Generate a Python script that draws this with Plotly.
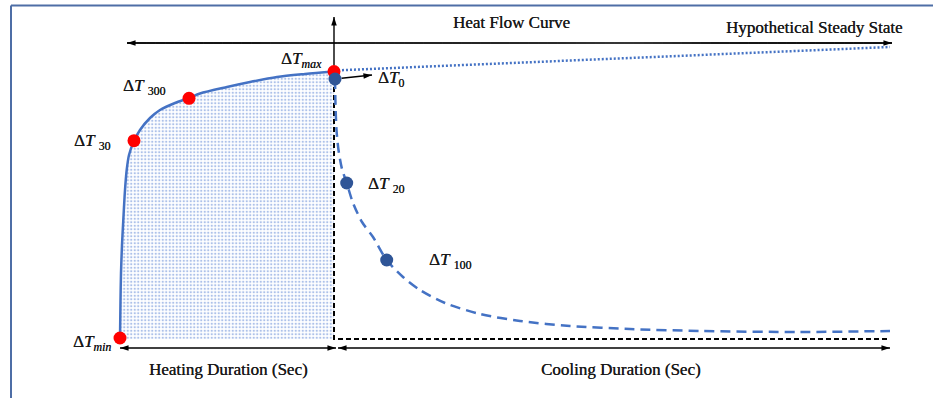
import plotly.graph_objects as go

# ---------------------------------------------------------------------------
# Schematic heat-flow curve: time (arbitrary units) vs temperature rise dT
# ---------------------------------------------------------------------------
heat_t = [0, 0.5, 1, 2, 3.3, 5, 6.7, 9, 14, 20, 30, 40, 55, 69, 80, 107, 130, 157, 185, 214]
heat_dT = [1, 39, 66, 94, 119, 149, 169, 184, 198, 209, 221, 229, 236, 241, 245.5, 252, 257, 262, 265, 267.5]

cool_t = [215, 215.5, 216.5, 218.5, 222, 226.7, 233, 242, 253, 266.7, 283, 300, 325, 360, 400, 450, 510, 580, 680, 770]
cool_dT = [260, 235, 209, 189, 170, 156, 136, 117, 102, 79, 62, 49, 36, 25, 18, 13, 10, 8, 7, 8]

steady_t = [214, 770]
steady_dT = [268.5, 292]

# marked readings
heat_pt_t = [0, 14, 69, 214]
heat_pt_dT = [1, 198.3, 240.7, 267.5]
heat_pt_labels = ["Δ<i>T</i><sub><i>min</i></sub>", "Δ<i>T</i> <sub>30</sub>",
                  "Δ<i>T</i> <sub>300</sub>", "Δ<i>T</i><sub><i>max</i></sub>"]

cool_pt_t = [215, 226.7, 266.7]
cool_pt_dT = [260, 156, 79]
cool_pt_labels = ["Δ<i>T</i><sub>0</sub>", "Δ<i>T</i> <sub>20</sub>", "Δ<i>T</i> <sub>100</sub>"]

# phase boundaries
heat_end = 214
cool_end = 770
baseline = 0

# guide arrows / captions
axis_top = 322
flow_arrow_t = [7, 772]
flow_arrow_dT = 296
duration_dT = -9
captions = ["Heat Flow Curve", "Hypothetical Steady State", "Heating Duration (Sec)", "Cooling Duration (Sec)"]
caption_t = [391, 694, 108, 501]
caption_dT = [317, 312, -30, -30]

BLUE = "#4472c4"
DARK_BLUE = "#2f5597"
SERIF = "Liberation Serif"
INK = "#1a1a1a"

fig = go.Figure()

# shaded heating area
fig.add_trace(go.Scatter(
    x=heat_t, y=heat_dT, mode="lines", fill="tozeroy",
    line=dict(color=BLUE, width=2.5, shape="spline", smoothing=0.8),
    fillpattern=dict(shape=".", fgcolor="#5b84d3", bgcolor="white", size=3.5, solidity=0.35),
    hoverinfo="skip"))

# black dashed boundaries (end of heating, baseline of cooling)
fig.add_trace(go.Scatter(
    x=[heat_end, heat_end, cool_end], y=[cool_pt_dT[0], baseline, baseline],
    mode="lines", line=dict(color="black", width=2, dash="5px,3px"), hoverinfo="skip"))

# hypothetical steady state (dotted)
fig.add_trace(go.Scatter(
    x=steady_t, y=steady_dT, mode="lines",
    line=dict(color=BLUE, width=2.5, dash="2px,2px"), hoverinfo="skip"))

# cooling curve (dashed)
fig.add_trace(go.Scatter(
    x=cool_t, y=cool_dT, mode="lines",
    line=dict(color=BLUE, width=2.5, dash="10px,6px", shape="spline", smoothing=0.8),
    hoverinfo="skip"))

# heat-flow double arrow with a dark-light-dark stroke
grey_stops = [(7, 0), (135, 15), (155, 85), (360, 100), (440, 135), (490, 200),
              (520, 192), (550, 138), (580, 68), (620, 20), (772, 0)]


def grey_at(t):
    for (t0, g0), (t1, g1) in zip(grey_stops[:-1], grey_stops[1:]):
        if t0 <= t <= t1:
            return int(round(g0 + (g1 - g0) * (t - t0) / (t1 - t0)))
    return 0


n_seg = 80
span = flow_arrow_t[1] - flow_arrow_t[0]
for i in range(n_seg):
    a = flow_arrow_t[0] + span * i / n_seg
    b = flow_arrow_t[0] + span * (i + 1) / n_seg
    g = grey_at((a + b) / 2)
    fig.add_trace(go.Scatter(
        x=[a, b], y=[flow_arrow_dT, flow_arrow_dT], mode="lines",
        line=dict(color=f"rgb({g},{g},{g})", width=1.4), hoverinfo="skip"))


def arrow(xs, ys, heads):
    """Black line through xs/ys with arrow-tip markers; heads = angle per point or None."""
    fig.add_trace(go.Scatter(
        x=xs, y=ys, mode="lines", line=dict(color="black", width=1.4), hoverinfo="skip"))
    pts = [(x, y, a) for x, y, a in zip(xs, ys, heads) if a is not None]
    fig.add_trace(go.Scatter(
        x=[p[0] for p in pts], y=[p[1] for p in pts], mode="markers",
        marker=dict(symbol="arrow", size=9, color="black", angle=[p[2] for p in pts],
                    line=dict(width=0)),
        hoverinfo="skip"))


# heads of the heat-flow arrow
arrow(flow_arrow_t, [flow_arrow_dT, flow_arrow_dT], [-90, 90])
# vertical temperature axis arrow
arrow([heat_end, heat_end], [heat_pt_dT[-1] + 6, axis_top], [None, 0])
# dT0 pointer
arrow([cool_pt_t[0] + 6.5, cool_pt_t[0] + 37], [cool_pt_dT[0] + 0.8, cool_pt_dT[0] + 4], [None, 84])
# duration arrows
arrow([heat_t[0], heat_end + 2], [duration_dT, duration_dT], [-90, 90])
arrow([heat_end + 4, cool_end], [duration_dT, duration_dT], [-90, 90])

# marked points
fig.add_trace(go.Scatter(
    x=heat_pt_t, y=heat_pt_dT, mode="markers",
    marker=dict(color="#ff0000", size=13, line=dict(width=0)), hoverinfo="skip"))
fig.add_trace(go.Scatter(
    x=cool_pt_t, y=cool_pt_dT, mode="markers",
    marker=dict(color=DARK_BLUE, size=13, line=dict(width=0)), hoverinfo="skip"))

annotations = []

# point labels
label_font = dict(family=SERIF, size=17, color=INK, shadow=f"0.2px 0 0 {INK}")
heat_offsets = [(-8, -5), (-22, -1), (-22, 11), (-11, 12)]
for t, d, lab, (dx, dy) in zip(heat_pt_t, heat_pt_dT, heat_pt_labels, heat_offsets):
    annotations.append(dict(x=t, y=d, text=lab, showarrow=False, xanchor="right", yanchor="middle",
                            xshift=dx, yshift=dy, font=label_font, borderpad=0))
cool_offsets = [(42, 0), (20, -2), (41, -1)]
for t, d, lab, (dx, dy) in zip(cool_pt_t, cool_pt_dT, cool_pt_labels, cool_offsets):
    annotations.append(dict(x=t, y=d, text=lab, showarrow=False, xanchor="left", yanchor="middle",
                            xshift=dx, yshift=dy, font=label_font, borderpad=0))

# captions
cap_font = dict(family=SERIF, size=17, color=INK, shadow=f"0.25px 0 0 {INK}")
for t, d, txt in zip(caption_t, caption_dT, captions):
    annotations.append(dict(x=t, y=d, text=txt, showarrow=False, xanchor="center", yanchor="middle",
                            font=cap_font, borderpad=0))

# frame lines along the left and top edges
frame = "#4e6ea6"
shapes = [
    dict(type="line", xref="paper", yref="paper", x0=11 / 933, x1=11 / 933, y0=0, y1=1 - 5.5 / 398,
         line=dict(color=frame, width=2)),
    dict(type="line", xref="paper", yref="paper", x0=11 / 933, x1=1, y0=1 - 5.5 / 398, y1=1 - 5.5 / 398,
         line=dict(color=frame, width=2)),
]

fig.update_layout(
    width=933, height=398,
    margin=dict(l=0, r=0, t=0, b=0),
    paper_bgcolor="white", plot_bgcolor="white",
    showlegend=False,
    xaxis=dict(range=[-120, 813], visible=False, fixedrange=True),
    yaxis=dict(range=[-59, 339], visible=False, fixedrange=True),
    annotations=annotations,
    shapes=shapes,
)

fig.write_html("out.html", config={"displayModeBar": False})
